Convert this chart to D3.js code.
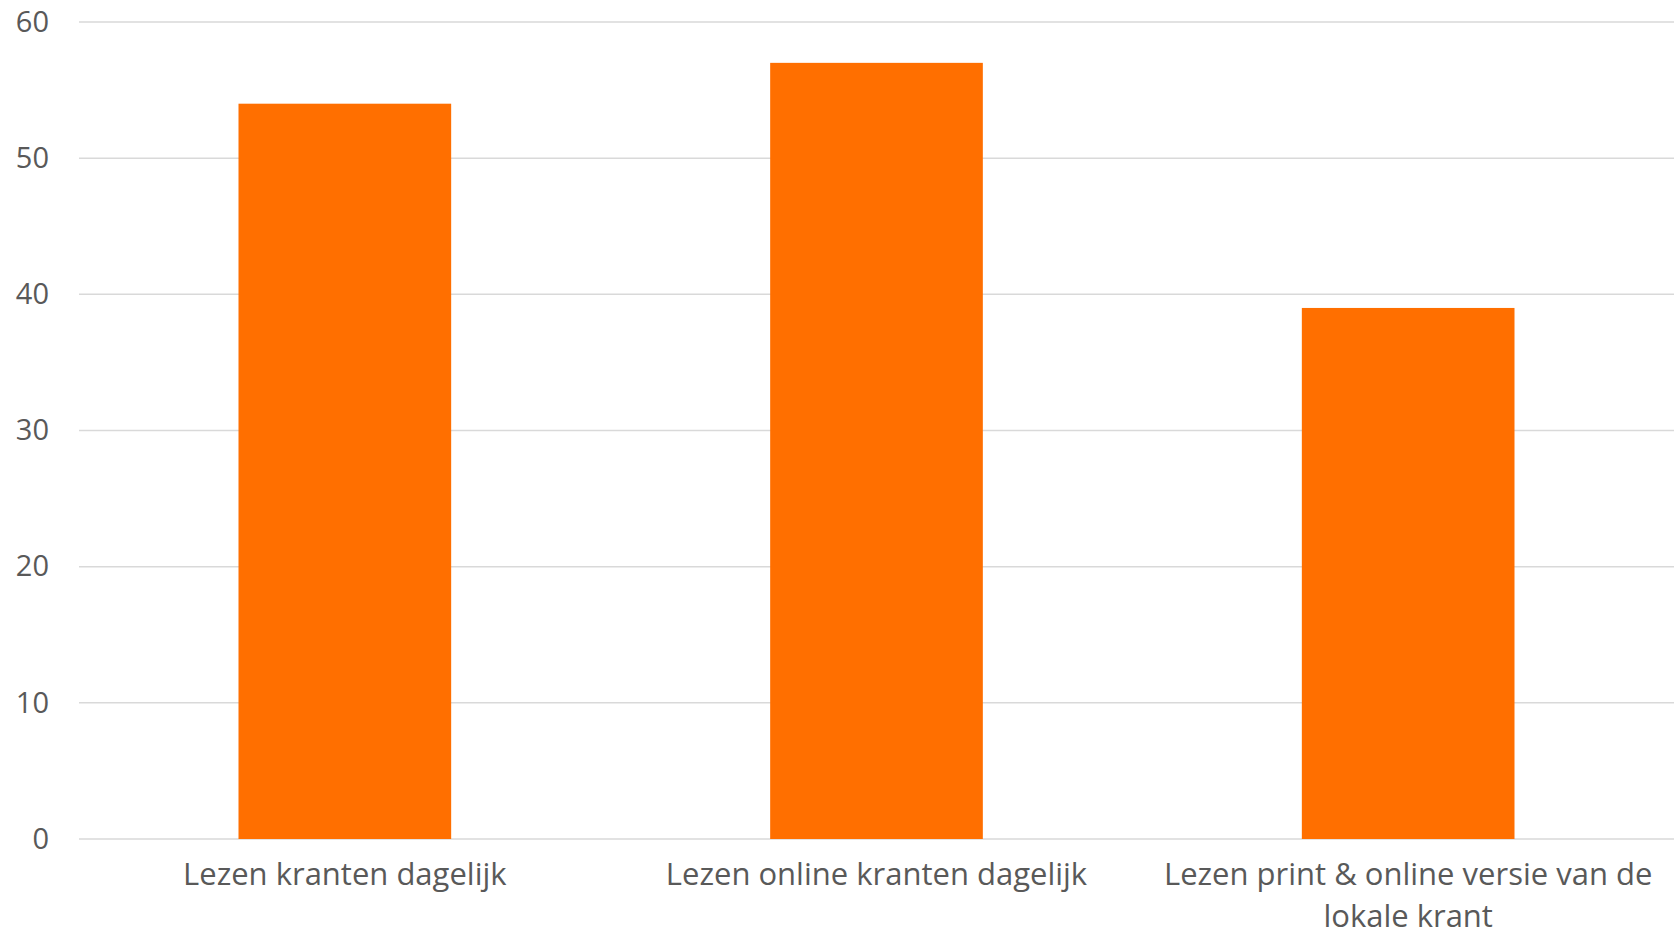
<!DOCTYPE html>
<html>
<head>
<meta charset="utf-8">
<script src="https://cdn.jsdelivr.net/npm/d3@7"></script>
<style>
  html, body { margin: 0; padding: 0; background: #ffffff; }
  svg { display: block; }
  text { font-family: "Open Sans", "Noto Sans", sans-serif; fill: #595959; }
</style>
</head>
<body>
<svg id="chart" width="1674" height="936"></svg>
<script>
const categories = [
  "Lezen kranten dagelijk",
  "Lezen online kranten dagelijk",
  "Lezen print & online versie van de lokale krant"
];
const values = [54, 57, 39];
const yTicks = [0, 10, 20, 30, 40, 50, 60];

const W = 1674, H = 936;
const margin = { top: 22, right: 0, bottom: 97, left: 79 };
const innerW = W - margin.left - margin.right;
const innerH = H - margin.top - margin.bottom;

const svg = d3.select("#chart");
const g = svg.append("g").attr("transform", `translate(${margin.left},${margin.top})`);

const x = d3.scaleBand().domain(categories).range([0, innerW]).paddingInner(0.6).paddingOuter(0.3);
const y = d3.scaleLinear().domain([0, 60]).range([innerH, 0]);

// gridlines
g.append("g")
  .selectAll("line")
  .data(yTicks)
  .join("line")
  .attr("x1", 0).attr("x2", innerW)
  .attr("y1", d => y(d)).attr("y2", d => y(d))
  .attr("stroke", "#d9d9d9")
  .attr("stroke-width", 1.5);

// y axis labels
const yAxis = g.append("g")
  .call(d3.axisLeft(y).tickValues(yTicks).tickSize(0).tickPadding(30));
yAxis.select(".domain").remove();
yAxis.selectAll("text")
  .attr("fill", "#595959")
  .style("font-size", "29px")
  .style("font-family", "'Open Sans', sans-serif");

// bars
g.append("g")
  .selectAll("rect")
  .data(values)
  .join("rect")
  .attr("x", (d, i) => x(categories[i]))
  .attr("width", x.bandwidth())
  .attr("y", d => y(d))
  .attr("height", d => y(0) - y(d))
  .attr("fill", "#ff6f00");

// x axis labels (wrapped to band step)
const xAxis = g.append("g")
  .attr("transform", `translate(0,${innerH})`)
  .call(d3.axisBottom(x).tickSize(0).tickPadding(0));
xAxis.select(".domain").remove();
xAxis.selectAll("text")
  .attr("fill", "#595959")
  .style("font-size", "31px")
  .style("font-family", "'Open Sans', sans-serif")
  .attr("y", 0)
  .attr("dy", 0)
  .each(function(d) {
    const t = d3.select(this);
    const words = d.split(" ");
    const maxW = x.step() - 4;
    t.text(null);
    let line = [];
    let lineNo = 0;
    let tspan = t.append("tspan").attr("x", 0).attr("y", 45.5);
    for (const w of words) {
      line.push(w);
      tspan.text(line.join(" "));
      if (tspan.node().getComputedTextLength() > maxW && line.length > 1) {
        line.pop();
        tspan.text(line.join(" "));
        line = [w];
        lineNo++;
        tspan = t.append("tspan").attr("x", 0).attr("y", 45.5 + lineNo * 42.3).text(w);
      }
    }
  });
</script>
</body>
</html>
